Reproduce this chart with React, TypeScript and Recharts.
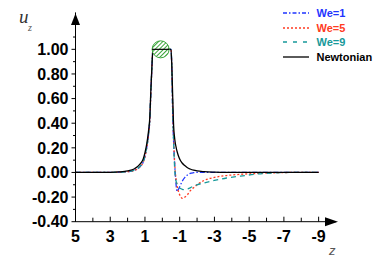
import { LineChart, Line, XAxis, YAxis, ReferenceDot } from 'recharts'

// axial positions (z), shared by every series
const zValues = [
    5, 4, 3, 2.5, 2, 1.6, 1.3, 1.1, 1.0, 0.9, 0.8, 0.72, 0.66, 0.6, 0.54, 0,
    -0.5, -0.55, -0.6, -0.65, -0.7, -0.75, -0.8, -0.85, -0.95, -1.05, -1.15, -1.3, -1.45, -1.6, -1.8, -2,
    -2.4, -3, -3.7, -4.5, -5.5, -6.5, -7.5, -9
]

const newtonian = [
    0, 0, 0.001, 0.004, 0.012, 0.03, 0.065, 0.11, 0.16, 0.23, 0.33, 0.45, 0.67, 0.86, 1, 1,
    1, 0.85, 0.6, 0.38, 0.29, 0.235, 0.2, 0.17, 0.125, 0.095, 0.075, 0.055, 0.038, 0.028, 0.018, 0.012,
    0.006, 0.002, 0, 0, 0, 0, 0, 0
]

const we1 = [
    0, 0, 0, 0.002, 0.006, 0.018, 0.045, 0.085, 0.13, 0.2, 0.3, 0.43, 0.65, 0.85, 1, 1,
    1, 0.82, 0.45, 0.25, 0.1, -0.02, -0.11, -0.155, -0.13, -0.1, -0.07, -0.04, -0.02, -0.008, -0.002, 0,
    0, 0, 0, 0, 0, 0, 0, 0
]

const we5 = [
    0, 0, 0, 0.002, 0.006, 0.017, 0.043, 0.083, 0.128, 0.2, 0.3, 0.43, 0.65, 0.85, 1, 1,
    1, 0.82, 0.5, 0.28, 0.1, 0, -0.07, -0.11, -0.165, -0.195, -0.21, -0.2, -0.18, -0.15, -0.125, -0.1,
    -0.065, -0.04, -0.025, -0.015, -0.008, -0.003, 0, 0
]

const we9 = [
    0, 0, 0, 0.002, 0.007, 0.02, 0.047, 0.088, 0.133, 0.205, 0.305, 0.44, 0.66, 0.85, 1, 1,
    1, 0.82, 0.48, 0.25, 0.06, -0.04, -0.075, -0.095, -0.12, -0.13, -0.137, -0.14, -0.135, -0.125, -0.11, -0.1,
    -0.085, -0.065, -0.045, -0.03, -0.012, -0.004, 0, 0
]

const xTicks = [5, 4, 3, 2, 1, 0, -1, -2, -3, -4, -5, -6, -7, -8, -9]
const yTicks = [-0.4, -0.3, -0.2, -0.1, 0, 0.1, 0.2, 0.3, 0.4, 0.5, 0.6, 0.7, 0.8, 0.9, 1.0, 1.1]

const series = [
    { key: 'we1', name: 'We=1', color: '#1f35ff', dash: '5 2 1.5 2', legendDash: '4 2 1.5 2' },
    { key: 'we5', name: 'We=5', color: '#ff3b22', dash: '2 2', legendDash: '2 2' },
    { key: 'we9', name: 'We=9', color: '#17999a', dash: '5 4', legendDash: '4 6' },
    { key: 'newtonian', name: 'Newtonian', color: '#000000', dash: undefined, legendDash: undefined },
]

const data = zValues.map((z, i) => ({ z, we1: we1[i], we5: we5[i], we9: we9[i], newtonian: newtonian[i] }))

const font = '"Liberation Sans", Arial, sans-serif'

const XTick = ({ x, y, payload }: any) => {
    const v = payload.value
    const major = Math.abs(v) % 2 === 1
    return (
        <g>
            <line x1={x} x2={x} y1={y} y2={y - (major ? 5 : 4)} stroke="#000" />
            {major && (
                <text x={x} y={y + 20.5} textAnchor="middle" fontFamily={font} fontWeight="bold" fontSize={16} fill="#000">
                    {v}
                </text>
            )}
        </g>
    )
}

const YTick = ({ x, y, payload }: any) => {
    const v = payload.value
    const major = Math.abs(Math.round(v * 10) % 2) === 0 && v <= 1.0001
    return (
        <g>
            <line x1={x - (major ? 4 : 2.5)} x2={x} y1={y} y2={y} stroke="#000" />
            {major && (
                <text x={x - 7} y={y} dy={5.7} textAnchor="end" fontFamily={font} fontWeight="bold" fontSize={16} fill="#000">
                    {v.toFixed(2)}
                </text>
            )}
        </g>
    )
}

const hatchCircle = (p: any) => (
    <g>
        <defs>
            <pattern id="hatch" patternUnits="userSpaceOnUse" width={3} height={3} patternTransform="rotate(45)">
                <rect width={3} height={3} fill="#ffffff" />
                <line x1={0} y1={0} x2={0} y2={3} stroke="#3aa53a" strokeWidth={2} />
            </pattern>
        </defs>
        <circle cx={p.cx} cy={p.cy} r={8.5} fill="url(#hatch)" stroke="#3aa53a" strokeWidth={1} />
        <line x1={p.cx - 8.5} x2={p.cx + 8.5} y1={p.cy} y2={p.cy} stroke="#000" strokeWidth={1.2} />
    </g>
)

const xArrow = (p: any) => (
    <path d={`M${p.cx + 2} ${p.cy} L${p.cx - 11} ${p.cy - 4.5} L${p.cx - 11} ${p.cy + 4.5} Z`} fill="#000" />
)

const yArrow = (p: any) => (
    <path d={`M${p.cx} ${p.cy + 1} L${p.cx - 4.5} ${p.cy + 12.5} L${p.cx + 4.5} ${p.cy + 12.5} Z`} fill="#000" />
)

export default function App() {
    return (
        <div style={{ position: 'absolute', left: 0, top: 0, width: 374, height: 264, background: '#fff' }}>
            <LineChart width={374} height={264} data={data} margin={{ top: 12.4, right: 38, left: 10.5, bottom: 12.3 }}>
                <XAxis
                    dataKey="z"
                    type="number"
                    domain={[-10, 5]}
                    reversed
                    ticks={xTicks}
                    interval={0}
                    tick={(p: any) => <XTick {...p} />}
                    tickLine={false}
                    tickSize={0}
                    tickMargin={0}
                    height={30}
                    axisLine={{ stroke: '#000' }}
                    allowDataOverflow
                />
                <YAxis
                    type="number"
                    domain={[-0.4, 1.3]}
                    ticks={yTicks}
                    interval={0}
                    tick={(p: any) => <YTick {...p} />}
                    tickLine={false}
                    tickSize={0}
                    tickMargin={0}
                    width={65}
                    axisLine={{ stroke: '#000' }}
                    allowDataOverflow
                />
                {series.map(s => (
                    <Line
                        key={s.key}
                        type="monotone"
                        dataKey={s.key}
                        name={s.name}
                        stroke={s.color}
                        strokeWidth={1.3}
                        strokeDasharray={s.dash}
                        dot={false}
                        activeDot={false}
                        isAnimationActive={false}
                    />
                ))}
                <ReferenceDot x={0.1} y={1} r={8.5} shape={hatchCircle} ifOverflow="visible" />
                <ReferenceDot x={-10} y={-0.4} r={0} shape={xArrow} ifOverflow="visible" />
                <ReferenceDot x={5} y={1.3} r={0} shape={yArrow} ifOverflow="visible" />
            </LineChart>
            <div style={{ position: 'absolute', left: 282, top: 6, fontFamily: font, fontWeight: 'bold', fontSize: 11 }}>
                {series.map(s => (
                    <div key={s.key} style={{ display: 'flex', alignItems: 'center', height: 14.5 }}>
                        <svg width={27} height={6} style={{ display: 'block' }}>
                            <line x1={1} x2={27} y1={3} y2={3} stroke={s.color} strokeWidth={1.3} strokeDasharray={s.legendDash} />
                        </svg>
                        <span style={{ marginLeft: 7.5, color: s.color, lineHeight: '14.5px' }}>{s.name}</span>
                    </div>
                ))}
            </div>
            <svg width={374} height={264} style={{ position: 'absolute', left: 0, top: 0, pointerEvents: 'none' }}>
                <text x={19} y={22.5} fontFamily='"Liberation Serif", "Times New Roman", serif' fontStyle="italic" fontSize={19} fill="#333">u</text>
                <text x={28} y={31} fontFamily='"Liberation Serif", "Times New Roman", serif' fontStyle="italic" fontSize={10} fill="#555">z</text>
                <text x={329} y={255} fontFamily={font} fontStyle="italic" fontSize={13} fill="#555">z</text>
            </svg>
        </div>
    )
}
